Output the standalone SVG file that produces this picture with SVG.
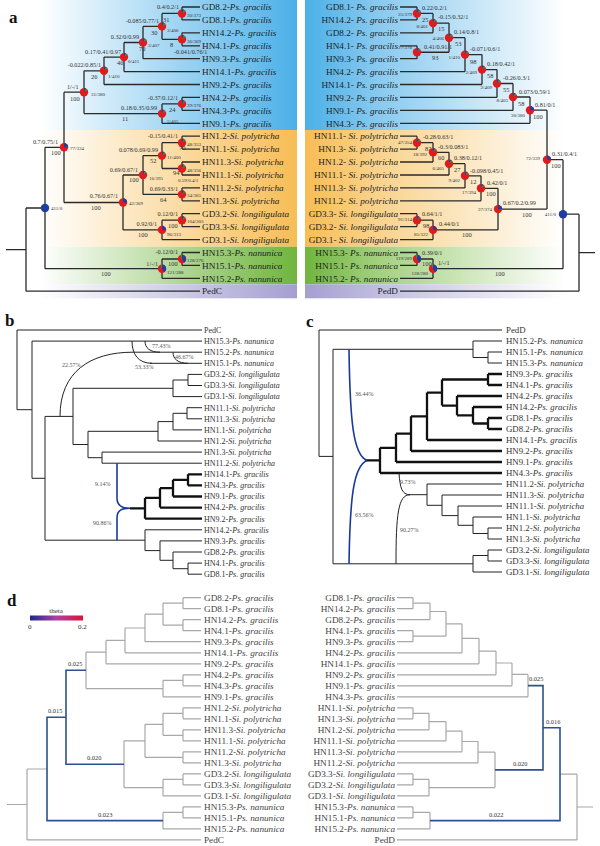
<svg xmlns="http://www.w3.org/2000/svg" xmlns:xlink="http://www.w3.org/1999/xlink" width="600" height="846" viewBox="0 0 600 846">
<style>
text{font-family:"Liberation Serif","Times New Roman",serif;}
.lf{font-size:9.2px;fill:#222}
.lb{font-size:8px;fill:#333}
.lc{font-size:8.8px;fill:#333}
.ld{font-size:9.2px;fill:#444}
.i{font-style:italic}
.sp{font-size:6.2px;fill:#333}
.bs{font-size:6.4px;fill:#333}
.ct{font-size:5px;fill:#333}
.pc{font-size:6px;fill:#555}
.bv{font-size:6.4px;fill:#333}
.pl{font-size:17px;font-weight:bold;fill:#111}
.e{text-anchor:end}
.tr{fill:none;stroke:#2a2a2a;stroke-width:1.3}
.tb{fill:none;stroke:#222;stroke-width:1}
.tk{fill:none;stroke:#111;stroke-width:2.3}
.bl{fill:none;stroke:#1a3a9a;stroke-width:1.6}
.gr{fill:none;stroke:#a8a8a8;stroke-width:1.2}
.db{fill:none;stroke:#2d5090;stroke-width:1.6}
</style>
<defs>
<linearGradient id="gLb" x1="0" x2="1"><stop offset="0" stop-color="#fff"/><stop offset="1" stop-color="#4cb0e8"/></linearGradient>
<linearGradient id="gLo" x1="0" x2="1"><stop offset="0" stop-color="#fff"/><stop offset="1" stop-color="#f7bd55"/></linearGradient>
<linearGradient id="gLg" x1="0" x2="1"><stop offset="0" stop-color="#fff"/><stop offset="1" stop-color="#70b53e"/></linearGradient>
<linearGradient id="gLp" x1="0" x2="1"><stop offset="0" stop-color="#fff"/><stop offset="1" stop-color="#a49fd0"/></linearGradient>
<linearGradient id="gRb" x1="0" x2="1"><stop offset="0" stop-color="#4cb0e8"/><stop offset="0.3" stop-color="#8ccbef"/><stop offset="1" stop-color="#fff"/></linearGradient>
<linearGradient id="gRo" x1="0" x2="1"><stop offset="0" stop-color="#f7bd55"/><stop offset="0.3" stop-color="#f9d490"/><stop offset="1" stop-color="#fff"/></linearGradient>
<linearGradient id="gRg" x1="0" x2="1"><stop offset="0" stop-color="#70b53e"/><stop offset="0.3" stop-color="#a6d283"/><stop offset="1" stop-color="#fff"/></linearGradient>
<linearGradient id="gRp" x1="0" x2="1"><stop offset="0" stop-color="#a49fd0"/><stop offset="0.3" stop-color="#c3bfe0"/><stop offset="1" stop-color="#fff"/></linearGradient>
<linearGradient id="gTheta" x1="0" x2="1"><stop offset="0" stop-color="#1a2a8a"/><stop offset="0.5" stop-color="#b040a0"/><stop offset="1" stop-color="#e0103a"/></linearGradient>
<g id="pR"><circle r="4.2" fill="#e31a1c"/><path d="M0,0L0,-4.2A4.2,4.2 0 0 1 2,-3.7Z" fill="#1f3f9f"/><path d="M0,0L2,-3.7A4.2,4.2 0 0 1 3.4,-2.47Z" fill="#2a9a48"/></g>
<g id="pB2"><circle r="4.2" fill="#e31a1c"/><path d="M0,0L0,-4.2A4.2,4.2 0 0 1 4.2,0Z" fill="#1f3f9f"/></g>
<g id="pB3"><circle r="4.2" fill="#e31a1c"/><path d="M0,0L0,-4.2A4.2,4.2 0 0 1 2.1,3.64Z" fill="#1f3f9f"/><path d="M0,0L-1.4,-3.96A4.2,4.2 0 0 1 0,-4.2Z" fill="#2a9a48"/></g>
<g id="pBl"><circle r="4.2" fill="#1f3f9f"/></g>
</defs>
<rect width="600" height="846" fill="#fff"/>

<g id="backgrounds">
<rect x="40" y="0" width="257" height="130" fill="url(#gLb)"/>
<rect x="40" y="130" width="257" height="116.7" fill="url(#gLo)"/>
<rect x="40" y="246.7" width="257" height="37.6" fill="url(#gLg)"/>
<rect x="40" y="284.3" width="257" height="14" fill="url(#gLp)"/>
<rect x="305" y="0" width="260" height="130" fill="url(#gRb)"/>
<rect x="305" y="130" width="260" height="116.7" fill="url(#gRo)"/>
<rect x="305" y="246.7" width="260" height="37.6" fill="url(#gRg)"/>
<rect x="305" y="284.3" width="260" height="14" fill="url(#gRp)"/>
</g>

<g id="panel-labels">
<text class="pl" x="9" y="23">a</text>
<text class="pl" x="5" y="326">b</text>
<text class="pl" x="306" y="327">c</text>
<text class="pl" x="7" y="606">d</text>
</g>

<g id="connectors">
<path class="tr" d="M182,7V19.9M182,32.8V45.8M162,13.45V39.3M143,26.4V58.7M124,42.5V71.6M104,57.1V84.5M182,97.4V110.4M162,103.9V123.3M84,70.8V113.6M182,136.2V149.1M182,162V175M162,142.7V168.5M182,187.9V200.8M143,155.6V194.4M182,213.7V226.6M162,220.2V239.6M123,175V229.9M64,92.2V202.5M182,252.5V265.4M162,259V278.3M45,147.3V268.7M26,208V291.2M182,7H200M182,19.9H200M182,32.8H200M182,45.8H200M143,58.7H200M124,71.6H200M104,84.5H200M182,97.4H200M182,110.4H200M162,123.3H200M182,136.2H200M182,149.1H200M182,162H200M182,175H200M182,187.9H200M182,200.8H200M182,213.7H200M182,226.6H200M162,239.6H200M182,252.5H200M182,265.4H200M162,278.3H200M26,291.2H200M162,13.45H182M162,39.3H182M143,26.4H162M124,42.5H143M104,57.1H124M84,70.8H104M162,103.9H182M84,113.6H162M162,142.7H182M162,168.5H182M143,155.6H162M143,194.4H182M123,175H143M162,220.2H182M123,229.9H162M64,92.2H84M64,202.5H123M162,259H182M45,268.7H162M45,147.3H64M26,208H45M6,249.6H26"/>
<path class="tr" d="M417,7V19.9M433,13.45V32.8M417,45.8V58.7M449,23.1V52.25M465,37.7V71.6M482,54.6V84.5M497,69.6V97.4M513,83.5V110.4M530,97V123.3M417,136.2V149.1M433,142.7V162M449,152.3V175M465,163.7V187.9M481,175.8V200.8M417,213.7V226.6M433,220.2V239.6M498,188.3V229.9M547,110.2V209.1M417,252.5V265.4M433,259V278.3M563,159.7V268.7M579,214.2V291.2M400,7H417M400,19.9H417M400,32.8H433M400,45.8H417M400,58.7H417M400,71.6H465M400,84.5H482M400,97.4H497M400,110.4H513M400,123.3H530M400,136.2H417M400,149.1H417M400,162H433M400,175H449M400,187.9H465M400,200.8H481M400,213.7H417M400,226.6H417M400,239.6H433M400,252.5H417M400,265.4H417M400,278.3H433M400,291.2H579M417,13.45H433M433,23.1H449M417,52.25H449M449,37.7H465M465,54.6H482M482,69.6H497M497,83.5H513M513,97H530M530,110.2H547M417,142.7H433M433,152.3H449M449,163.7H465M465,175.8H481M481,188.3H498M417,220.2H433M433,229.9H498M498,209.1H547M547,159.7H563M417,259H433M433,268.7H563M563,214.2H579M579,252.7H595"/>
<path class="tb" d="M188,374.4V385.5M173,380V396.6M187,407.7V418.8M173,413.3V429.9M158,421.6V441M102,452.1V463.2M88,431.3V457.7M73,388.3V444.5M188,563.1V574.2M173,552V568.7M160,540.9V560.3M145,529.8V550.6M45,416.4V540.2M32,341.1V478.3M17,330V409.7M17,330H202M32,341.1H202M188,374.4H202M188,385.5H202M173,396.6H202M187,407.7H202M187,418.8H202M173,429.9H202M158,441H202M102,452.1H202M102,463.2H202M145,529.8H202M160,540.9H202M173,552H202M188,563.1H202M188,574.2H202M133,352.2H202M150,363.3H202M173,380H188M73,388.3H173M173,413.3H187M158,421.6H173M88,431.3H158M88,457.7H102M73,444.5H88M45,416.4H73M173,568.7H188M160,560.3H173M145,550.6H160M45,540.2H145M32,478.3H45M17,409.7H32"/>
<path class="tb" d="M132,341.1C132,354 138,363.3 152,363.3M145,341.1C145,348 150,352.2 160,352.2M173,352.2C173,359 178,363.3 188,363.3M60,416.4C60,372 90,352.2 133,352.2"/>
<path class="tk" d="M188,474.3V485.4M173,479.8V496.5M160,488.2V507.6M145,497.9V518.7M188,474.3H202M188,485.4H202M173,496.5H202M160,507.6H202M145,518.7H202M173,479.8H188M160,488.2H173M145,497.9H160M130,508.3H145"/>
<path class="bl" d="M117,463.2V498C117,506 122,508.3 130,508.3M117,540.2V518C117,510 122,508.3 130,508.3"/>
<path class="tb" d="M488,352V363M473,341V357.5M319,330V456.4M333,349.3V563.8M488,528V539M473,517V533.5M458,506V525.3M442,495V515.6M427,484V505.3M488,550V561M473,555.5V572M319,330H502M473,341H502M488,352H502M488,363H502M473,357.5H488M333,349.3H473M319,456.4H333M333,563.8H473M488,550H502M488,561H502M473,572H502M473,555.5H488M488,528H502M488,539H502M473,517H502M458,506H502M442,495H502M427,484H502M473,533.5H488M458,525.3H473M442,515.6H458M427,505.3H442M408,494.7H427"/>
<path class="tb" d="M399,473C400,488 402,494.7 410,494.7M396,563.8C396,515 398,494.7 410,494.7"/>
<path class="tk" d="M488,374V385M488,418V429M473,407V423.5M457,396V415.3M442,379.5V405.6M427,392.6V440M411,416.3V451M396,433.7V462M380,447.8V473M488,374H502M488,385H502M457,396H502M473,407H502M488,418H502M488,429H502M427,440H502M411,451H502M396,462H502M380,473H502M473,423.5H488M457,415.3H473M442,405.6H457M442,379.5H488M427,392.6H442M411,416.3H427M396,433.7H411M380,447.8H396M365,460.4H380"/>
<path class="bl" d="M349,349.3C350,420 353,455 367,460.4M349,563.8C350,500 353,466 367,460.4"/>
<path class="gr" d="M183,597.7V608.7M183,619.7V630.7M163,603.2V625.2M145,614.2V641.7M125,628V652.8M106,640.4V663.8M183,674.8V685.8M163,680.3V696.8M86,652.1V688.6M183,707.8V718.8M183,729.8V740.8M163,713.3V735.3M183,751.8V762.9M145,724.3V757.3M183,773.9V784.9M163,779.4V795.9M124,740.8V787.6M183,806.9V817.9M163,812.4V828.9M27,769V839.9M183,597.7H201M183,608.7H201M183,619.7H201M183,630.7H201M145,641.7H201M125,652.8H201M106,663.8H201M183,674.8H201M183,685.8H201M163,696.8H201M183,707.8H201M183,718.8H201M183,729.8H201M183,740.8H201M183,751.8H201M183,762.9H201M183,773.9H201M183,784.9H201M163,795.9H201M183,806.9H201M183,817.9H201M163,828.9H201M27,839.9H201M163,603.2H183M163,625.2H183M145,614.2H163M125,628H145M106,640.4H125M86,652.1H106M163,680.3H183M86,688.6H163M163,713.3H183M163,735.3H183M145,724.3H163M145,757.3H183M124,740.8H145M163,779.4H183M124,787.6H163M163,812.4H183M27,769H47M7,804.5H27"/>
<path class="db" d="M86,670.3H66V764.2H124M66,717.3H47V820.6H163"/>
<path class="gr" d="M413,597.7V608.7M430,603.2V619.7M413,630.7V641.7M446,611.5V636.2M462,623.9V652.8M479,638.3V663.8M496,651.1V674.8M512,663V685.8M528,674.4V696.8M413,707.8V718.8M429,713.3V729.8M446,721.6V740.8M462,731.2V751.8M478,741.5V762.9M413,773.9V784.9M429,779.4V795.9M495,752.2V787.6M413,806.9V817.9M430,812.4V828.9M577,774.2V839.9M397,597.7H413M397,608.7H413M397,619.7H430M397,630.7H413M397,641.7H413M397,652.8H462M397,663.8H479M397,674.8H496M397,685.8H512M397,696.8H528M397,707.8H413M397,718.8H413M397,729.8H429M397,740.8H446M397,751.8H462M397,762.9H478M397,773.9H413M397,784.9H413M397,795.9H429M397,806.9H413M397,817.9H413M397,828.9H430M397,839.9H577M413,603.2H430M430,611.5H446M413,636.2H446M446,623.9H462M462,638.3H479M479,651.1H496M496,663H512M512,674.4H528M413,713.3H429M429,721.6H446M446,731.2H462M462,741.5H478M478,752.2H495M413,779.4H429M429,787.6H495M413,812.4H430M560,774.2H577M577,807H593"/>
<path class="db" d="M528,685.6H543V769.9H495M543,727.8H560V820.6H430"/>
</g>

<g id="a-left-nodes">
<g id="aL-n1"><use href="#pR" x="182" y="13.45"/><text class="sp e" x="179" y="9">0.4/0.2/1</text><text class="bs" x="163" y="21.5">31</text><text class="ct" x="187" y="16.5">30/373</text></g>
<g id="aL-n3"><use href="#pR" x="162" y="26.4"/><text class="sp e" x="159" y="23">-0.085/0.77/1</text><text class="bs" x="151" y="34.5">30</text><text class="ct" x="167" y="32">3/406</text></g>
<g id="aL-n2"><use href="#pR" x="182" y="39.3"/><text class="ct" x="187" y="42.5">36/369</text><text class="bs" x="170" y="47">8</text><text class="sp" x="174" y="54">-0.041/0.76/1</text></g>
<g id="aL-n4"><use href="#pR" x="143" y="42.5"/><text class="sp e" x="139" y="38.5">0.32/0/0.99</text><text class="bs" x="139" y="50.5">70</text><text class="ct" x="148" y="46.5">3/407</text></g>
<g id="aL-n5"><use href="#pR" x="124" y="57.1"/><text class="sp e" x="121" y="53.5">0.17/0.41/0.97</text><text class="bs" x="117" y="65">46</text><text class="ct" x="128" y="62.5">0/411</text></g>
<g id="aL-n6"><use href="#pR" x="104" y="70.8"/><text class="sp e" x="101" y="67">-0.022/0.85/1</text><text class="bs" x="91" y="78.5">26</text><text class="ct" x="108" y="78">1/410</text></g>
<g id="aL-n9"><use href="#pR" x="84" y="92.2"/><text class="sp" x="67" y="88.5">1/-/1</text><text class="bs" x="70" y="100.5">100</text><text class="ct" x="91" y="96">31/380</text></g>
<g id="aL-n7"><use href="#pR" x="182" y="103.9"/><text class="sp e" x="178" y="100">-0.37/0.12/1</text><text class="bs" x="169" y="111.5">24</text><text class="ct" x="187" y="106.5">29/376</text></g>
<g id="aL-n8"><use href="#pR" x="162" y="113.6"/><text class="sp e" x="157" y="110">0.18/0.35/0.99</text><text class="bs" x="122" y="121">11</text><text class="ct" x="167" y="123">5/405</text></g>
<g id="aL-g"><use href="#pB2" x="64" y="147.3"/><text class="sp e" x="58" y="143.5">0.7/0.75/1</text><text class="bs" x="51" y="154.5">100</text><text class="ct" x="70" y="150">77/334</text></g>
<g id="aL-p1"><use href="#pR" x="182" y="142.7"/><text class="sp e" x="178" y="137.5">-0.15/0.41/1</text><text class="bs" x="179" y="149.5">70</text><text class="ct" x="187" y="146">48/353</text></g>
<g id="aL-p3"><use href="#pR" x="162" y="155.6"/><text class="sp e" x="158" y="151.7">0.078/0.69/0.99</text><text class="bs" x="150" y="162.7">52</text><text class="ct" x="167" y="158.5">11/400</text></g>
<g id="aL-p2"><use href="#pR" x="182" y="168.5"/><text class="bs" x="173" y="174.5">94</text><text class="ct" x="178" y="181.7">0.59/0.4/1</text><text class="ct" x="187" y="171.5">48/356</text></g>
<g id="aL-p5"><use href="#pR" x="143" y="175"/><text class="sp e" x="138" y="171.7">0.69/0.67/1</text><text class="bs" x="129" y="181.7">100</text><text class="ct" x="149" y="179.5">16/395</text></g>
<g id="aL-p4"><use href="#pR" x="182" y="194.4"/><text class="sp e" x="178" y="191">0.69/0.33/1</text><text class="bs" x="160" y="201.5">64</text><text class="ct" x="187" y="197">34/365</text></g>
<g id="aL-pl"><use href="#pB2" x="123" y="202.5"/><text class="sp e" x="118" y="198.3">0.76/0.67/1</text><text class="bs" x="91" y="210">100</text><text class="ct" x="129" y="205">42/369</text></g>
<g id="aL-l1"><use href="#pR" x="182" y="220.2"/><text class="sp e" x="178" y="216">0.12/0/1</text><text class="bs" x="168" y="227.5">100</text><text class="ct" x="187" y="222.5">104/303</text></g>
<g id="aL-l2"><use href="#pB2" x="162" y="229.9"/><text class="sp e" x="157" y="226">0.92/0/1</text><text class="bs" x="138" y="237">100</text><text class="ct" x="167" y="236">96/313</text></g>
<g id="aL-b"><use href="#pBl" x="45" y="208"/><text class="ct" x="51" y="210">411/0</text></g>
<g id="aL-nn1"><use href="#pB3" x="182" y="259"/><text class="sp e" x="178" y="254.3">-0.12/0/1</text><text class="bs" x="168" y="265.5">100</text><text class="ct" x="187" y="261.5">128/276</text></g>
<g id="aL-nn2"><use href="#pB3" x="162" y="268.7"/><text class="sp e" x="158" y="266">1/-/1</text><text class="bs" x="101" y="275.5">100</text><text class="ct" x="167" y="274">121/288</text></g>
</g>

<g id="a-left-leaves" class="lf">
<text x="202" y="10.2">GD8.2-<tspan class="i">Ps. gracilis</tspan></text>
<text x="202" y="23.1">GD8.1-<tspan class="i">Ps. gracilis</tspan></text>
<text x="202" y="36">HN14.2-<tspan class="i">Ps. gracilis</tspan></text>
<text x="202" y="49">HN4.1-<tspan class="i">Ps. gracilis</tspan></text>
<text x="202" y="61.9">HN9.3-<tspan class="i">Ps. gracilis</tspan></text>
<text x="202" y="74.8">HN14.1-<tspan class="i">Ps. gracilis</tspan></text>
<text x="202" y="87.7">HN9.2-<tspan class="i">Ps. gracilis</tspan></text>
<text x="202" y="100.6">HN4.2-<tspan class="i">Ps. gracilis</tspan></text>
<text x="202" y="113.6">HN4.3-<tspan class="i">Ps. gracilis</tspan></text>
<text x="202" y="126.5">HN9.1-<tspan class="i">Ps. gracilis</tspan></text>
<text x="202" y="139.4">HN1.2-<tspan class="i">Si. polytricha</tspan></text>
<text x="202" y="152.3">HN1.1-<tspan class="i">Si. polytricha</tspan></text>
<text x="202" y="165.2">HN11.3-<tspan class="i">Si. polytricha</tspan></text>
<text x="202" y="178.2">HN11.1-<tspan class="i">Si. polytricha</tspan></text>
<text x="202" y="191.1">HN11.2-<tspan class="i">Si. polytricha</tspan></text>
<text x="202" y="204">HN1.3-<tspan class="i">Si. polytricha</tspan></text>
<text x="202" y="216.9">GD3.2-<tspan class="i">Si. longiligulata</tspan></text>
<text x="202" y="229.8">GD3.3-<tspan class="i">Si. longiligulata</tspan></text>
<text x="202" y="242.8">GD3.1-<tspan class="i">Si. longiligulata</tspan></text>
<text x="202" y="255.7">HN15.3-<tspan class="i">Ps. nanunica</tspan></text>
<text x="202" y="268.6">HN15.1-<tspan class="i">Ps. nanunica</tspan></text>
<text x="202" y="281.5">HN15.2-<tspan class="i">Ps. nanunica</tspan></text>
<text x="202" y="294.4">PedC</text>
</g>

<g id="a-right-nodes">
<g id="aR-n1"><use href="#pR" x="417" y="13.45"/><text class="sp" x="422" y="9.5">0.22/0.2/1</text><text class="bs" x="422" y="21.5">25</text><text class="ct e" x="412" y="16">25/379</text></g>
<g id="aR-n2"><use href="#pR" x="433" y="23.1"/><text class="sp" x="438" y="19">-0.15/0.32/1</text><text class="bs" x="438" y="31">15</text><text class="ct e" x="428" y="27.5">8/401</text></g>
<g id="aR-n4"><use href="#pR" x="449" y="37.7"/><text class="sp" x="454" y="34">0.14/0.8/1</text><text class="bs" x="455" y="45.5">53</text><text class="ct e" x="444" y="40">4/406</text></g>
<g id="aR-n3"><use href="#pR" x="417" y="52.25"/><text class="sp" x="424" y="49">0.41/0.91/1</text><text class="bs" x="432" y="59.5">93</text><text class="ct e" x="412" y="49">27/378</text></g>
<g id="aR-n5"><use href="#pR" x="465" y="54.6"/><text class="sp" x="470" y="51">-0.071/0.6/1</text><text class="bs" x="470" y="64">98</text><text class="ct e" x="460" y="59">1/410</text></g>
<g id="aR-n6"><use href="#pR" x="482" y="69.6"/><text class="sp" x="487" y="65.5">0.18/0.42/1</text><text class="bs" x="487" y="77.5">58</text><text class="ct e" x="477" y="74">2/409</text></g>
<g id="aR-n7"><use href="#pR" x="497" y="83.5"/><text class="sp" x="503" y="80">-0.26/0.3/1</text><text class="bs" x="503" y="92">55</text><text class="ct e" x="492" y="89">2/409</text></g>
<g id="aR-n8"><use href="#pR" x="513" y="97"/><text class="sp" x="519" y="94">0.073/0.59/1</text><text class="bs" x="518" y="105.5">58</text><text class="ct e" x="508" y="102">8/403</text></g>
<g id="aR-n9"><use href="#pB2" x="530" y="110.2"/><text class="sp" x="535" y="107">0.81/0/1</text><text class="bs" x="533" y="119">100</text><text class="ct e" x="525" y="117">30/380</text></g>
<g id="aR-p1"><use href="#pR" x="417" y="142.7"/><text class="sp" x="423" y="139">-0.28/0.63/1</text><text class="bs" x="425" y="150.5">82</text><text class="ct e" x="412" y="144">47/354</text></g>
<g id="aR-p2"><use href="#pR" x="433" y="152.3"/><text class="sp" x="438" y="148.5">-0.3/0.083/1</text><text class="bs" x="438" y="159.5">60</text><text class="ct e" x="427" y="156">18/392</text></g>
<g id="aR-p3"><use href="#pR" x="449" y="163.7"/><text class="sp" x="454" y="159.5">0.38/0.12/1</text><text class="bs" x="454" y="171.5">27</text><text class="ct e" x="444" y="170">6/405</text></g>
<g id="aR-p4"><use href="#pR" x="465" y="175.8"/><text class="sp" x="470" y="172.5">-0.098/0.45/1</text><text class="bs" x="470" y="183.5">12</text><text class="ct e" x="460" y="182">9/402</text></g>
<g id="aR-p5"><use href="#pR" x="481" y="188.3"/><text class="sp" x="487" y="185">0.42/0/1</text><text class="bs" x="486" y="195.5">100</text><text class="ct e" x="476" y="194">17/394</text></g>
<g id="aR-pl"><use href="#pB2" x="498" y="209.1"/><text class="sp" x="503" y="205">0.67/0.2/0.99</text><text class="bs" x="522" y="217">100</text><text class="ct e" x="492" y="210.5">37/374</text></g>
<g id="aR-l1"><use href="#pR" x="417" y="220.2"/><text class="sp" x="422" y="216">0.64/1/1</text><text class="bs" x="423" y="228">98</text><text class="ct e" x="412" y="221">91/314</text></g>
<g id="aR-l2"><use href="#pB2" x="433" y="229.9"/><text class="sp" x="439" y="226">0.44/0/1</text><text class="bs" x="462" y="237">100</text><text class="ct e" x="428" y="236">85/322</text></g>
<g id="aR-g"><use href="#pB2" x="547" y="159.7"/><text class="sp" x="552" y="156">0.31/0.4/1</text><text class="bs" x="551" y="168">100</text><text class="ct e" x="540" y="160">72/339</text></g>
<g id="aR-b"><use href="#pBl" x="563" y="214.2"/><text class="ct e" x="556" y="215.5">411/0</text></g>
<g id="aR-nn1"><use href="#pB3" x="417" y="259"/><text class="sp" x="422" y="255">0.39/0/1</text><text class="bs" x="422" y="266">100</text><text class="ct e" x="412" y="260">119/289</text></g>
<g id="aR-nn2"><use href="#pB3" x="433" y="268.7"/><text class="sp" x="438" y="265">1/-/1</text><text class="bs" x="495" y="276">100</text><text class="ct e" x="428" y="275">128/280</text></g>
</g>

<g id="a-right-leaves" class="lf" text-anchor="end">
<text x="398" y="10.2">GD8.1- <tspan class="i">Ps. gracilis</tspan></text>
<text x="398" y="23.1">HN14.2- <tspan class="i">Ps. gracilis</tspan></text>
<text x="398" y="36">GD8.2- <tspan class="i">Ps. gracilis</tspan></text>
<text x="398" y="49">HN4.1- <tspan class="i">Ps. gracilis</tspan></text>
<text x="398" y="61.9">HN9.3- <tspan class="i">Ps. gracilis</tspan></text>
<text x="398" y="74.8">HN4.2- <tspan class="i">Ps. gracilis</tspan></text>
<text x="398" y="87.7">HN14.1- <tspan class="i">Ps. gracilis</tspan></text>
<text x="398" y="100.6">HN9.2- <tspan class="i">Ps. gracilis</tspan></text>
<text x="398" y="113.6">HN9.1- <tspan class="i">Ps. gracilis</tspan></text>
<text x="398" y="126.5">HN4.3- <tspan class="i">Ps. gracilis</tspan></text>
<text x="398" y="139.4">HN11.1- <tspan class="i">Si. polytricha</tspan></text>
<text x="398" y="152.3">HN1.3- <tspan class="i">Si. polytricha</tspan></text>
<text x="398" y="165.2">HN1.2- <tspan class="i">Si. polytricha</tspan></text>
<text x="398" y="178.2">HN11.1- <tspan class="i">Si. polytricha</tspan></text>
<text x="398" y="191.1">HN11.3- <tspan class="i">Si. polytricha</tspan></text>
<text x="398" y="204">HN11.2- <tspan class="i">Si. polytricha</tspan></text>
<text x="398" y="216.9">GD3.3- <tspan class="i">Si. longiligulata</tspan></text>
<text x="398" y="229.8">GD3.2- <tspan class="i">Si. longiligulata</tspan></text>
<text x="398" y="242.8">GD3.1- <tspan class="i">Si. longiligulata</tspan></text>
<text x="398" y="255.7">HN15.3- <tspan class="i">Ps. nanunica</tspan></text>
<text x="398" y="268.6">HN15.1- <tspan class="i">Ps. nanunica</tspan></text>
<text x="398" y="281.5">HN15.2- <tspan class="i">Ps. nanunica</tspan></text>
<text x="398" y="294.4">PedD</text>
</g>

<g id="b-leaves" class="lb">
<text x="204" y="332.8">PedC</text>
<text x="204" y="343.9">HN15.3-<tspan class="i">Ps. nanunica</tspan></text>
<text x="204" y="355">HN15.2-<tspan class="i">Ps. nanunica</tspan></text>
<text x="204" y="366.1">HN15.1-<tspan class="i">Ps. nanunica</tspan></text>
<text x="204" y="377.2">GD3.2-<tspan class="i">Si. longiligulata</tspan></text>
<text x="204" y="388.3">GD3.3-<tspan class="i">Si. longiligulata</tspan></text>
<text x="204" y="399.4">GD3.1-<tspan class="i">Si. longiligulata</tspan></text>
<text x="204" y="410.5">HN11.1-<tspan class="i">Si. polytricha</tspan></text>
<text x="204" y="421.6">HN11.3-<tspan class="i">Si. polytricha</tspan></text>
<text x="204" y="432.7">HN1.1-<tspan class="i">Si. polytricha</tspan></text>
<text x="204" y="443.8">HN1.2-<tspan class="i">Si. polytricha</tspan></text>
<text x="204" y="454.9">HN1.3-<tspan class="i">Si. polytricha</tspan></text>
<text x="204" y="466">HN11.2-<tspan class="i">Si. polytricha</tspan></text>
<text x="204" y="477.1">HN14.1-<tspan class="i">Ps. gracilis</tspan></text>
<text x="204" y="488.2">HN4.3-<tspan class="i">Ps. gracilis</tspan></text>
<text x="204" y="499.3">HN9.1-<tspan class="i">Ps. gracilis</tspan></text>
<text x="204" y="510.4">HN4.2-<tspan class="i">Ps. gracilis</tspan></text>
<text x="204" y="521.5">HN9.2-<tspan class="i">Ps. gracilis</tspan></text>
<text x="204" y="532.6">HN14.2-<tspan class="i">Ps. gracilis</tspan></text>
<text x="204" y="543.7">HN9.3-<tspan class="i">Ps. gracilis</tspan></text>
<text x="204" y="554.8">GD8.2-<tspan class="i">Ps. gracilis</tspan></text>
<text x="204" y="565.9">HN4.1-<tspan class="i">Ps. gracilis</tspan></text>
<text x="204" y="577">GD8.1-<tspan class="i">Ps. gracilis</tspan></text>
</g>
<g id="b-percentages" class="pc">
<text x="152" y="347.5">77.43%</text>
<text x="175" y="359">46.67%</text>
<text x="135" y="368.5">53.33%</text>
<text x="62" y="367">22.57%</text>
<text x="95" y="486">9.14%</text>
<text x="93" y="525">90.86%</text>
</g>

<g id="c-leaves" class="lc">
<text x="506" y="333">PedD</text>
<text x="506" y="344">HN15.2-<tspan class="i">Ps. nanunica</tspan></text>
<text x="506" y="355">HN15.1-<tspan class="i">Ps. nanunica</tspan></text>
<text x="506" y="366">HN15.3-<tspan class="i">Ps. nanunica</tspan></text>
<text x="506" y="377">HN9.3-<tspan class="i">Ps. gracilis</tspan></text>
<text x="506" y="388">HN4.1-<tspan class="i">Ps. gracilis</tspan></text>
<text x="506" y="399">HN4.2-<tspan class="i">Ps. gracilis</tspan></text>
<text x="506" y="410">HN14.2-<tspan class="i">Ps. gracilis</tspan></text>
<text x="506" y="421">GD8.1-<tspan class="i">Ps. gracilis</tspan></text>
<text x="506" y="432">GD8.2-<tspan class="i">Ps. gracilis</tspan></text>
<text x="506" y="443">HN14.1-<tspan class="i">Ps. gracilis</tspan></text>
<text x="506" y="454">HN9.2-<tspan class="i">Ps. gracilis</tspan></text>
<text x="506" y="465">HN9.1-<tspan class="i">Ps. gracilis</tspan></text>
<text x="506" y="476">HN4.3-<tspan class="i">Ps. gracilis</tspan></text>
<text x="506" y="487">HN11.2-<tspan class="i">Si. polytricha</tspan></text>
<text x="506" y="498">HN11.3-<tspan class="i">Si. polytricha</tspan></text>
<text x="506" y="509">HN11.1-<tspan class="i">Si. polytricha</tspan></text>
<text x="506" y="520">HN1.1-<tspan class="i">Si. polytricha</tspan></text>
<text x="506" y="531">HN1.2-<tspan class="i">Si. polytricha</tspan></text>
<text x="506" y="542">HN1.3-<tspan class="i">Si. polytricha</tspan></text>
<text x="506" y="553">GD3.2-<tspan class="i">Si. longiligulata</tspan></text>
<text x="506" y="564">GD3.3-<tspan class="i">Si. longiligulata</tspan></text>
<text x="506" y="575">GD3.1-<tspan class="i">Si. longiligulata</tspan></text>
</g>
<g id="c-percentages" class="pc">
<text x="355" y="396">36.44%</text>
<text x="355" y="517">63.56%</text>
<text x="400" y="484">9.73%</text>
<text x="400" y="532">90.27%</text>
</g>

<g id="d-legend">
<text x="56" y="613" text-anchor="middle" style="font-size:7px;fill:#333">theta</text>
<rect x="30" y="615.5" width="53" height="5" fill="url(#gTheta)"/>
<text x="28" y="629" style="font-size:7px;fill:#333">0</text>
<text x="78" y="629" style="font-size:7px;fill:#333">0.2</text>
</g>
<g id="d-left-leaves" class="ld">
<text x="204" y="600.9">GD8.2-<tspan class="i">Ps. gracilis</tspan></text>
<text x="204" y="611.9">GD8.1-<tspan class="i">Ps. gracilis</tspan></text>
<text x="204" y="622.9">HN14.2-<tspan class="i">Ps. gracilis</tspan></text>
<text x="204" y="633.9">HN4.1-<tspan class="i">Ps. gracilis</tspan></text>
<text x="204" y="644.9">HN9.3-<tspan class="i">Ps. gracilis</tspan></text>
<text x="204" y="656">HN14.1-<tspan class="i">Ps. gracilis</tspan></text>
<text x="204" y="667">HN9.2-<tspan class="i">Ps. gracilis</tspan></text>
<text x="204" y="678">HN4.2-<tspan class="i">Ps. gracilis</tspan></text>
<text x="204" y="689">HN4.3-<tspan class="i">Ps. gracilis</tspan></text>
<text x="204" y="700">HN9.1-<tspan class="i">Ps. gracilis</tspan></text>
<text x="204" y="711">HN1.2-<tspan class="i">Si. polytricha</tspan></text>
<text x="204" y="722">HN1.1-<tspan class="i">Si. polytricha</tspan></text>
<text x="204" y="733">HN11.3-<tspan class="i">Si. polytricha</tspan></text>
<text x="204" y="744">HN11.1-<tspan class="i">Si. polytricha</tspan></text>
<text x="204" y="755">HN11.2-<tspan class="i">Si. polytricha</tspan></text>
<text x="204" y="766.1">HN1.3-<tspan class="i">Si. polytricha</tspan></text>
<text x="204" y="777.1">GD3.2-<tspan class="i">Si. longiligulata</tspan></text>
<text x="204" y="788.1">GD3.3-<tspan class="i">Si. longiligulata</tspan></text>
<text x="204" y="799.1">GD3.1-<tspan class="i">Si. longiligulata</tspan></text>
<text x="204" y="810.1">HN15.3-<tspan class="i">Ps. nanunica</tspan></text>
<text x="204" y="821.1">HN15.1-<tspan class="i">Ps. nanunica</tspan></text>
<text x="204" y="832.1">HN15.2-<tspan class="i">Ps. nanunica</tspan></text>
<text x="204" y="843.1">PedC</text>
</g>
<g id="d-right-leaves" class="ld" text-anchor="end">
<text x="395" y="600.9">GD8.1-<tspan class="i">Ps. gracilis</tspan></text>
<text x="395" y="611.9">HN14.2-<tspan class="i">Ps. gracilis</tspan></text>
<text x="395" y="622.9">GD8.2-<tspan class="i">Ps. gracilis</tspan></text>
<text x="395" y="633.9">HN4.1-<tspan class="i">Ps. gracilis</tspan></text>
<text x="395" y="644.9">HN9.3-<tspan class="i">Ps. gracilis</tspan></text>
<text x="395" y="656">HN4.2-<tspan class="i">Ps. gracilis</tspan></text>
<text x="395" y="667">HN14.1-<tspan class="i">Ps. gracilis</tspan></text>
<text x="395" y="678">HN9.2-<tspan class="i">Ps. gracilis</tspan></text>
<text x="395" y="689">HN9.1-<tspan class="i">Ps. gracilis</tspan></text>
<text x="395" y="700">HN4.3-<tspan class="i">Ps. gracilis</tspan></text>
<text x="395" y="711">HN1.1-<tspan class="i">Si. polytricha</tspan></text>
<text x="395" y="722">HN1.3-<tspan class="i">Si. polytricha</tspan></text>
<text x="395" y="733">HN1.2-<tspan class="i">Si. polytricha</tspan></text>
<text x="395" y="744">HN11.1-<tspan class="i">Si. polytricha</tspan></text>
<text x="395" y="755">HN11.3-<tspan class="i">Si. polytricha</tspan></text>
<text x="395" y="766.1">HN11.2-<tspan class="i">Si. polytricha</tspan></text>
<text x="395" y="777.1">GD3.3-<tspan class="i">Si. longiligulata</tspan></text>
<text x="395" y="788.1">GD3.2-<tspan class="i">Si. longiligulata</tspan></text>
<text x="395" y="799.1">GD3.1-<tspan class="i">Si. longiligulata</tspan></text>
<text x="395" y="810.1">HN15.3-<tspan class="i">Ps. nanunica</tspan></text>
<text x="395" y="821.1">HN15.1-<tspan class="i">Ps. nanunica</tspan></text>
<text x="395" y="832.1">HN15.2-<tspan class="i">Ps. nanunica</tspan></text>
<text x="395" y="843.1">PedD</text>
</g>
<g id="d-branch-values" class="bv">
<text x="68" y="666">0.025</text>
<text x="48" y="713">0.015</text>
<text x="87" y="760">0.020</text>
<text x="98" y="817">0.023</text>
<text x="529" y="681">0.025</text>
<text x="546" y="724">0.016</text>
<text x="513" y="766">0.020</text>
<text x="489" y="817">0.022</text>
</g>
</svg>
